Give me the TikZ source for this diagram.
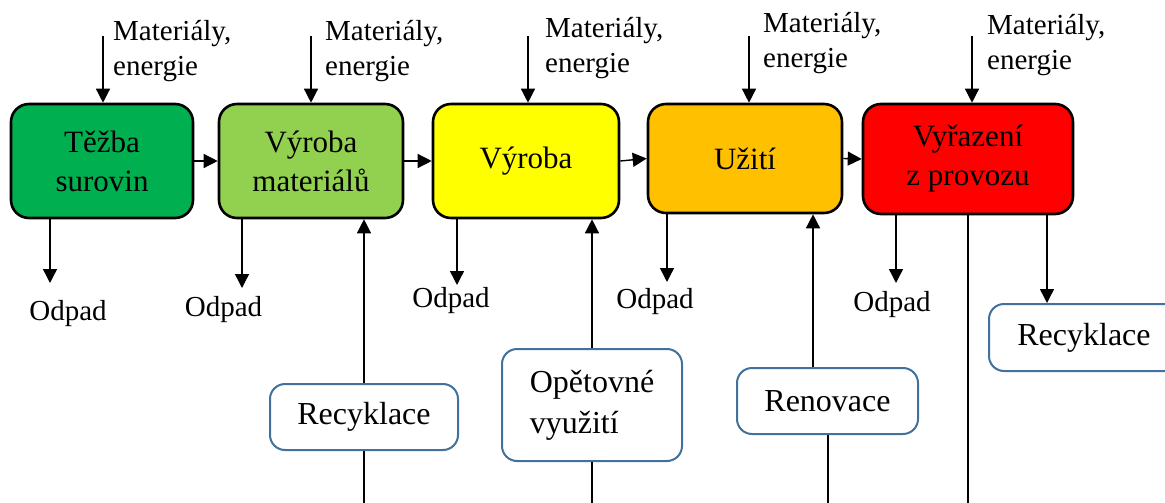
\documentclass[tikz,border=0pt]{standalone}
\usepackage{fontspec}
\setmainfont{Liberation Serif}
\usetikzlibrary{arrows.meta}
\definecolor{cGreen}{HTML}{00B050}
\definecolor{cLight}{HTML}{92D050}
\definecolor{cYellow}{HTML}{FFFF00}
\definecolor{cOrange}{HTML}{FFC000}
\definecolor{cRed}{HTML}{FF0000}
\definecolor{cFrame}{HTML}{41719C}
\tikzset{
  stage/.style={draw=black, line width=2.6pt, rounded corners=18pt, align=center,
    font=\fontsize{31}{39}\selectfont, inner sep=0pt},
  loop/.style={draw=cFrame, line width=2pt, fill=white, rounded corners=15pt,
    font=\fontsize{32}{41}\selectfont, inner sep=0pt},
  lbl/.style={anchor=base west, inner sep=0pt, align=left,
    font=\fontsize{29}{35}\selectfont},
  waste/.style={anchor=base, inner sep=0pt, font=\fontsize{29}{34}\selectfont},
  arr/.style={line width=1.4pt, -{Triangle[length=14pt,width=14pt]}},
  wire/.style={line width=1.4pt}
}
\begin{document}
\begin{tikzpicture}[x=1pt,y=-1pt]
\useasboundingbox (0,0) rectangle (1165,503);
\clip (0,0) rectangle (1165,503);

% life-cycle stages
\node[stage, fill=cGreen,  minimum width=182pt, minimum height=114pt] (b1) at (102,161) {Těžba\\surovin};
\node[stage, fill=cLight,  minimum width=184pt, minimum height=114pt] (b2) at (311,161) {Výroba\\materiálů};
\node[stage, fill=cYellow, minimum width=186pt, minimum height=114pt] (b3) at (526,161) {Výroba};
\node[stage, fill=cOrange, minimum width=194pt, minimum height=109pt] (b4) at (745,158.5) {Užití};
\node[stage, fill=cRed,    minimum width=210pt, minimum height=110pt] (b5) at (968,159) {Vyřazení\\z provozu};

% flow between stages
\draw[arr] (b1.east) -- (b2.west);
\draw[arr] (b2.east) -- (b3.west);
\draw[arr] (b3.east) -- (b4.west);
\draw[arr] (b4.east) -- (b5.west);

% material and energy inputs (anchor is the baseline of the second line)
\node[lbl] (m1) at (113,75) {Materiály,\\energie};
\node[lbl] (m2) at (325,75) {Materiály,\\energie};
\node[lbl] (m3) at (545,73) {Materiály,\\energie};
\node[lbl] (m4) at (763,67) {Materiály,\\energie};
\node[lbl] (m5) at (987,70) {Materiály,\\energie};
\coordinate (i1) at (103,36);
\coordinate (i2) at (311,36);
\coordinate (i3) at (528,36);
\coordinate (i4) at (749,36);
\coordinate (i5) at (972,36);
\draw[arr] (i1) -- (i1 |- b1.north);
\draw[arr] (i2) -- (i2 |- b2.north);
\draw[arr] (i3) -- (i3 |- b3.north);
\draw[arr] (i4) -- (i4 |- b4.north);
\draw[arr] (i5) -- (i5 |- b5.north);

% waste outputs
\coordinate (w1) at (50,283);
\coordinate (w2) at (242,288);
\coordinate (w3) at (457,285);
\coordinate (w4) at (667,282);
\coordinate (w5) at (896,283);
\draw[arr] (w1 |- b1.south) -- (w1);
\draw[arr] (w2 |- b2.south) -- (w2);
\draw[arr] (w3 |- b3.south) -- (w3);
\draw[arr] (w4 |- b4.south) -- (w4);
\draw[arr] (w5 |- b5.south) -- (w5);
\node[waste] (o1) at (68,320) {Odpad};
\node[waste] (o2) at (223.5,316) {Odpad};
\node[waste] (o3) at (451,307) {Odpad};
\node[waste] (o4) at (655,308) {Odpad};
\node[waste] (o5) at (892,311) {Odpad};

% loops back into the chain
\node[loop, minimum width=188pt, minimum height=66pt] (rc1) at (364,417) {Recyklace};
\node[loop, minimum width=180pt, minimum height=112pt, align=left] (reu) at (592,405) {Opětovné\\využití};
\node[loop, minimum width=181pt, minimum height=66pt] (ren) at (827.5,401) {Renovace};
\node[loop, minimum width=190pt, minimum height=67pt] (rc2) at (1084,337.5) {Recyklace};

\coordinate (f1) at (364,510);
\coordinate (f2) at (592,510);
\coordinate (f3) at (828,510);
\coordinate (f4) at (968,510);
\coordinate (u3) at (813,0);
\coordinate (d5) at (1047,0);

\draw[wire] (f1) -- (rc1.south);
\draw[arr] (rc1.north) -- (rc1.north |- b2.south);
\draw[wire] (f2) -- (reu.south);
\draw[arr] (reu.north) -- (reu.north |- b3.south);
\draw[wire] (f3) -- (f3 |- ren.south);
\draw[arr] (u3 |- ren.north) -- (u3 |- b4.south);
\draw[wire] (f4 |- b5.south) -- (f4);
\draw[arr] (d5 |- b5.south) -- (d5 |- rc2.north);
\end{tikzpicture}
\end{document}
